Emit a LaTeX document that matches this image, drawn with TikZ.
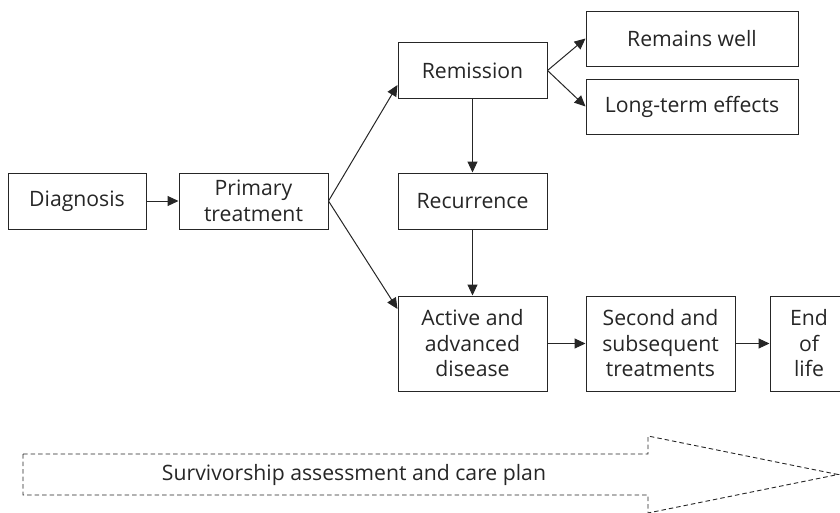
\documentclass[tikz,border=0pt]{standalone}
\usepackage{fontspec}
\setmainfont{Open Sans}
\usetikzlibrary{arrows.meta}
\begin{document}
\begin{tikzpicture}[x=1pt, y=1pt, auto, line width=1pt, draw=black!85, text=black!85,
        >={Triangle[length=11pt,width=10pt]},
        font=\fontsize{21.2}{25.5}\selectfont,
        box/.style={rectangle, draw, fill=white, align=center, minimum width=149pt, minimum height=56pt, inner sep=1pt},
        tallbox/.style={box, minimum height=95pt},
        wide/.style={box, minimum width=212pt, minimum height=55pt}]
        \useasboundingbox (0,0) rectangle (840,-512);
        \node[box, minimum width=138pt] (diag) at (77,-201) {Diagnosis};
        \node[box, right of=diag, node distance=176.5pt] (prim) {Primary\\treatment};
        \node[box, right of=prim, node distance=219pt] (recur) {Recurrence};
        \node[box, above of=recur, node distance=130.5pt] (remis) {Remission};
        \node[tallbox, below of=recur, node distance=142.5pt] (active) {Active and\\advanced\\disease};
        \node[tallbox, right of=active, node distance=188pt] (second) {Second and\\subsequent\\treatments};
        \node[tallbox, right of=second, node distance=148.5pt, minimum width=78pt] (end) {End\\of\\life};
        \node[wide, right of=remis, node distance=219.5pt, yshift=32pt] (well) {Remains well};
        \node[wide, right of=remis, node distance=219.5pt, yshift=-36pt] (lte) {Long-term effects};
        \draw[->] (diag) -- (prim);
        \draw[->] (prim.east) -- ([yshift=-14.5pt]remis.west);
        \draw[->] (prim.east) -- ([yshift=34.5pt]active.west);
        \draw[->] (remis.east) -- (well.west);
        \draw[->] (remis.east) -- (lte.west);
        \draw[->] (remis) -- (recur);
        \draw[->] (recur) -- (active);
        \draw[->] (active) -- (second);
        \draw[->] (second) -- (end);
        \draw[dash pattern=on 4.5pt off 3pt, line width=0.9pt]
            (23,-454) -- (648,-454) -- (648,-436) -- (838,-474.5) -- (648,-513) -- (648,-495) -- (23,-495) -- cycle;
        \node (plan) at (354,-474.5) {Survivorship assessment and care plan};
    \end{tikzpicture}
\end{document}
